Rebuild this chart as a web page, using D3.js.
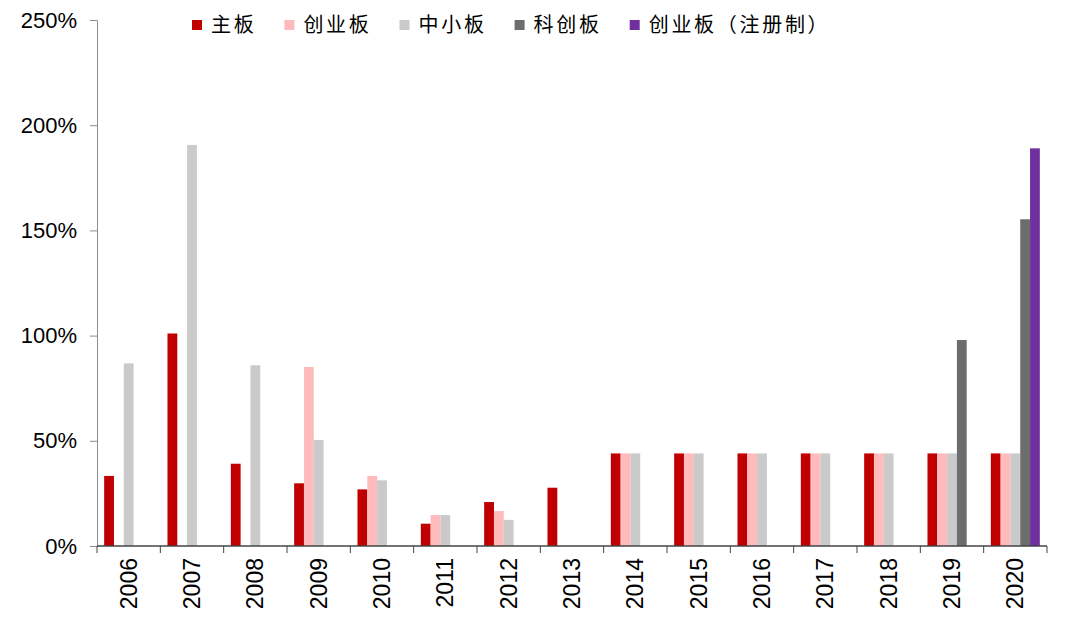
<!DOCTYPE html>
<html><head><meta charset="utf-8">
<script src="https://cdn.jsdelivr.net/npm/d3@7"></script>
<style>body{margin:0;background:#fff}</style>
</head><body>
<svg id="c" width="1065" height="630"></svg>
<script>
const years = ["2006","2007","2008","2009","2010","2011","2012","2013","2014","2015","2016","2017","2018","2019","2020"];
const seriesNames = ["主板","创业板","中小板","科创板","创业板（注册制）"];
const seriesColors = ["#C00000","#FFBBBB","#CACACA","#6D6D6D","#7030A0"];
const mainBoard   = [33.3,101,39.1,29.8,26.9,10.6,20.9,27.7,44,44,44,44,44,44,44];
const chiNext     = [null,null,null,85.1,33.3,14.7,16.6,null,44,44,44,44,44,44,44];
const smeBoard    = [86.8,190.6,85.9,50.4,31.2,14.7,12.4,null,44,44,44,44,44,44,44];
const starBoard   = [null,null,null,null,null,null,null,null,null,null,null,null,null,97.9,155.3];
const chiNextReg  = [null,null,null,null,null,null,null,null,null,null,null,null,null,null,189];
const yTicks = [0,50,100,150,200,250];

const seriesVals = [mainBoard, chiNext, smeBoard, starBoard, chiNextReg];
const svg = d3.select("#c");
const m = {l:97, r:1047, t:20, b:546};
const x = d3.scaleBand().domain(years).range([m.l, m.r]).paddingInner(0).paddingOuter(0);
const xi = d3.scaleBand().domain(d3.range(5)).range([0, x.bandwidth()]).paddingInner(0).paddingOuter(0.73);
const y = d3.scaleLinear().domain([0,250]).range([m.b, m.t]);

// bars
seriesVals.forEach((vals, si) => {
  svg.append("g").selectAll("rect").data(years.map((yr,i)=>({yr, v: vals[i]})).filter(d=>d.v!=null))
    .join("rect")
    .attr("x", d => x(d.yr) + xi(si))
    .attr("width", xi.bandwidth())
    .attr("y", d => y(d.v))
    .attr("height", d => y(0) - y(d.v))
    .attr("fill", seriesColors[si]);
});

// y axis
const ya = svg.append("g").attr("transform", `translate(${m.l},0)`)
  .call(d3.axisLeft(y).tickValues(yTicks).tickFormat(d => d + "%").tickSizeOuter(0).tickSizeInner(7).tickPadding(13));
ya.select(".domain").attr("stroke", "#8c8c8c");
ya.selectAll(".tick line").attr("stroke", "#8c8c8c");
ya.selectAll("text").attr("font-family", "Liberation Sans, Arial, sans-serif").attr("font-size", 22).attr("fill", "#000");

// x axis
const xa = svg.append("g").attr("transform", `translate(0,${m.b})`);
xa.append("line").attr("x1", m.l).attr("x2", m.r).attr("y1", 0).attr("y2", 0).attr("stroke", "#444").attr("stroke-width", 1.3);
xa.selectAll("line.t").data(years.concat(["end"])).join("line").attr("class","t")
  .attr("x1", (d,i) => i < years.length ? x(d) : m.r)
  .attr("x2", (d,i) => i < years.length ? x(d) : m.r)
  .attr("y1", 0).attr("y2", 7).attr("stroke", "#444");
xa.selectAll("text").data(years).join("text")
  .attr("transform", d => `translate(${x(d) + x.bandwidth()/2 + 8},12) rotate(-90)`)
  .attr("text-anchor", "end")
  .attr("font-family", "Liberation Sans, Arial, sans-serif").attr("font-size", 23)
  .text(d => d);

// legend
let lx = 192;
const pitch = 22.7;
const lg = svg.append("g");
seriesNames.forEach((n, i) => {
  lg.append("rect").attr("x", lx).attr("y", 20).attr("width", 10).attr("height", 10).attr("fill", seriesColors[i]);
  lg.append("text").attr("x", lx + 19).attr("y", 32).attr("font-family", "Noto Sans CJK SC").attr("font-size", 20)
    .attr("letter-spacing", pitch - 20).attr("fill", "#000").text(n);
  lx += 19 + n.length * pitch + 28;
});
</script>
</body></html>
